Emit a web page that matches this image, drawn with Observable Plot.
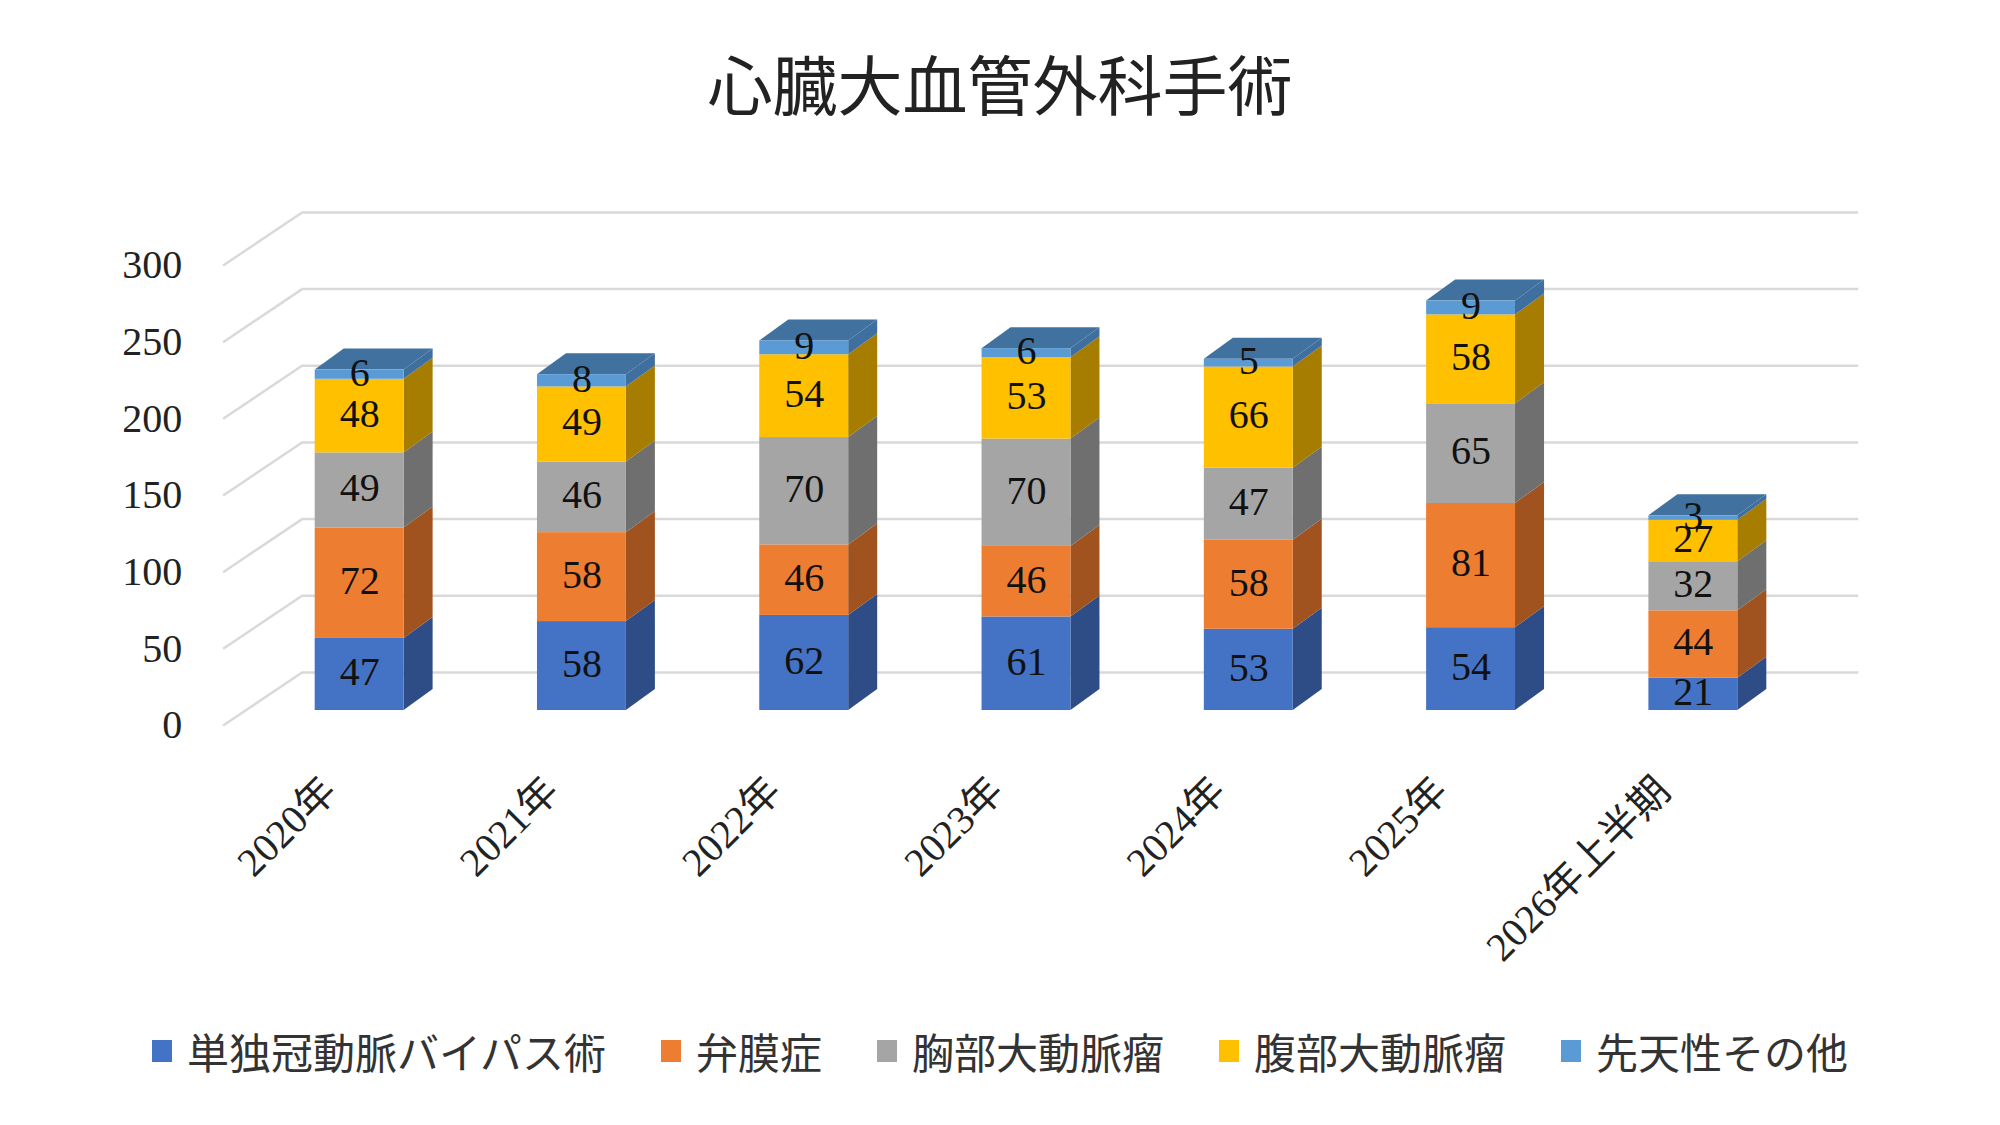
<!DOCTYPE html>
<html><head><meta charset="utf-8">
<script src="https://cdn.jsdelivr.net/npm/d3@7"></script>
<script src="https://cdn.jsdelivr.net/npm/@observablehq/plot@0.6"></script>
<style>
body{margin:0;background:#fff;}
#wrap{position:relative;width:2000px;height:1125px;overflow:hidden;background:#fff;}
#title{position:absolute;left:0;top:40px;width:2000px;text-align:center;font:400 65px "Noto Sans CJK JP";color:#222;line-height:84px;}
#chart{position:absolute;left:0;top:150px;}
#legend{position:absolute;left:0;top:1026px;width:2000px;display:flex;justify-content:center;gap:55px;font:400 42px "Noto Sans CJK JP";color:#333;line-height:50px;}
.item{display:flex;align-items:center;}
.sw{width:20px;height:22px;margin-right:15px;}
</style></head>
<body><div id="wrap"><div id="title">心臓大血管外科手術</div><div id="chart"></div><div id="legend"></div></div>
<script>
const years = ["2020年","2021年","2022年","2023年","2024年","2025年","2026年上半期"];
const seriesNames = ["単独冠動脈バイパス術","弁膜症","胸部大動脈瘤","腹部大動脈瘤","先天性その他"];
const cabg       = [47,58,62,61,53,54,21];
const valve      = [72,58,46,46,58,81,44];
const thoracic   = [49,46,70,70,47,65,32];
const abdominal  = [48,49,54,53,66,58,27];
const congenital = [6,8,9,6,5,9,3];
const yTicks = [0,50,100,150,200,250,300];

const colors     = ["#4472C4","#ED7D31","#A5A5A5","#FFC000","#5B9BD5"];
const sideColors = ["#2E4D86","#A0531F","#6F6F6F","#A67D00","#3F6F9E"];
const topColor = "#41729F";

// geometry (data units)
const HW = 0.2;        // half bar width
const DX = 0.1305;     // bar depth in x
const DY = 13.7;       // bar depth in y
const WALL_FRONT_X = -0.614, WALL_BACK_X = -0.259, WALL_RIGHT_X = 6.744, WALL_DY = 34.6;

const seriesValues = [cabg, valve, thoracic, abdominal, congenital];
const segs = [], sidePts = [], topPts = [];
years.forEach((yr, i) => {
  let acc = 0;
  seriesValues.forEach((vals, s) => {
    const v = vals[i];
    const seg = {i, s, value: v, y0: acc, y1: acc + v, color: colors[s], side: sideColors[s], id: i + "-" + s};
    segs.push(seg);
    sidePts.push({id: seg.id, x: i + HW, lo: seg.y0, hi: seg.y1, fill: seg.side});
    sidePts.push({id: seg.id, x: i + HW + DX, lo: seg.y0 + DY, hi: seg.y1 + DY, fill: seg.side});
    acc += v;
  });
  topPts.push({i, y: acc, a: i - HW, b: i + HW});
  topPts.push({i, y: acc + DY, a: i - HW + DX, b: i + HW + DX});
});
const yearRows = years.map((label, i) => ({i, label}));

const serif = "Liberation Serif, 'Noto Sans CJK JP', serif";
const plot = Plot.plot({
  width: 2000, height: 840,
  marginLeft: 248, marginRight: 196, marginTop: 100, marginBottom: 280,
  x: {domain: [-0.5, 6.5], axis: null},
  y: {domain: [0, 300], axis: null},
  color: {type: "identity"},
  style: {background: "transparent", overflow: "visible"},
  marks: [
    Plot.ruleY(yTicks, {y: d => d + WALL_DY, x1: WALL_BACK_X, x2: WALL_RIGHT_X, dy: 15, stroke: "#D9D9D9", strokeWidth: 2.5}),
    Plot.link(yTicks, {x1: WALL_FRONT_X, x2: WALL_BACK_X, y1: d => d, y2: d => d + WALL_DY, dy: 15, stroke: "#D9D9D9", strokeWidth: 2.5}),
    Plot.text(yTicks, {x: WALL_FRONT_X, y: d => d, text: d => String(d), dx: -41, dy: 15, textAnchor: "end", fontSize: 40, fontFamily: serif, fill: "#222"}),
    Plot.areaY(sidePts, {x: "x", y1: "lo", y2: "hi", z: "id", fill: "fill"}),
    Plot.areaX(topPts, {y: "y", x1: "a", x2: "b", z: "i", fill: topColor}),
    Plot.rect(segs, {x1: d => d.i - HW, x2: d => d.i + HW, y1: "y0", y2: "y1", fill: "color"}),
    Plot.text(segs, {x: "i", y: d => (d.y0 + d.y1) / 2, text: d => String(d.value), dy: -2, fontSize: 40, fontFamily: serif, fill: "#111"}),
    Plot.text(yearRows, {x: "i", y: () => 0, text: "label", rotate: -45, textAnchor: "end", dx: -30, dy: 74, fontSize: 40, fontFamily: serif, fill: "#222"})
  ]
});
document.getElementById("chart").appendChild(plot);

const legend = document.getElementById("legend");
seriesNames.forEach((name, s) => {
  const it = document.createElement("div"); it.className = "item";
  const sw = document.createElement("div"); sw.className = "sw"; sw.style.background = colors[s];
  const tx = document.createElement("span"); tx.textContent = name;
  it.appendChild(sw); it.appendChild(tx); legend.appendChild(it);
});
</script></body></html>
